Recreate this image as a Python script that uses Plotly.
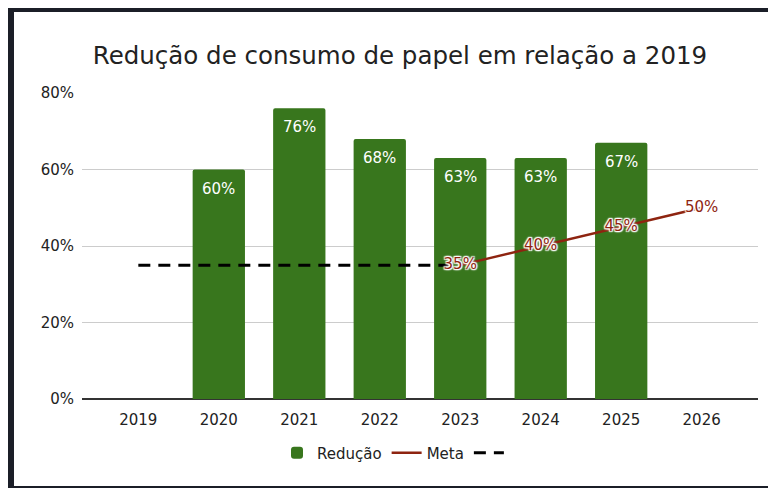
import plotly.graph_objects as go

# ---- data ----
years = ["2019", "2020", "2021", "2022", "2023", "2024", "2025", "2026"]
reducao_years = ["2020", "2021", "2022", "2023", "2024", "2025"]
reducao_vals = [60, 76, 68, 63, 63, 67]
meta_years = ["2023", "2024", "2025", "2026"]
meta_vals = [35, 40, 45, 50]
base_years = ["2019", "2020", "2021", "2022", "2023"]
base_vals = [35, 35, 35, 35, 35]
y_ticks = [0, 20, 40, 60, 80]

title_text = "Redução de consumo de papel em relação a 2019"
FONT = "DejaVu Sans"
GREEN = "#38761d"
RED = "#8e2410"
FRAME = "#1b1e27"
TXT = "#222222"

# page body has an 8px margin, so the figure is placed at (8, 8)
OFF = 8
W, H = 776 - OFF, 488 - OFF
L, R, T, B = 82 - OFF, 776 - 758, 93 - OFF, 488 - 399
PW, PH = W - L - R, H - T - B


def px(x):
    """reference-page pixel x -> paper coordinate"""
    return (x - OFF - L) / PW


def py(y):
    """reference-page pixel y -> paper coordinate"""
    return (H - B - (y - OFF)) / PH


fig = go.Figure()

fig.add_trace(go.Bar(
    x=reducao_years, y=reducao_vals, name="Redução",
    marker=dict(color=GREEN, line=dict(width=0), cornerradius=2),
    width=0.65, legendrank=1,
))

fig.add_trace(go.Scatter(
    x=base_years, y=base_vals, name=" ", mode="lines",
    line=dict(color="black", width=3, dash="12px,8px"),
    legendrank=3,
))

fig.add_trace(go.Scatter(
    x=meta_years, y=meta_vals, name="Meta", mode="lines+text",
    line=dict(color=RED, width=2.5),
    text=[f"{v}%" for v in meta_vals], textposition="middle center",
    textfont=dict(family=FONT, size=15, color=RED,
                  shadow="0 0 2px #fff, 0 0 2px #fff, 0 0 3px #fff, 1px 1px 1px #fff, -1px -1px 1px #fff, 1px -1px 1px #fff, -1px 1px 1px #fff"),
    legendrank=2,
))

annotations = []
for yr, v in zip(reducao_years, reducao_vals):
    annotations.append(dict(
        x=years.index(yr), y=v, xref="x", yref="y", text=f"{v}%", showarrow=False,
        yanchor="middle", yshift=-19,
        font=dict(family=FONT, size=15, color="white"),
    ))

shapes = [
    dict(type="rect", xref="paper", yref="paper", layer="above",
         x0=px(8), x1=px(14), y0=py(488), y1=py(7),
         fillcolor=FRAME, line=dict(width=0)),
    dict(type="rect", xref="paper", yref="paper", layer="above",
         x0=px(8), x1=px(776), y0=py(12), y1=py(7),
         fillcolor=FRAME, line=dict(width=0)),
    dict(type="rect", xref="paper", yref="paper", layer="above",
         x0=px(8), x1=px(776), y0=py(488), y1=py(486),
         fillcolor=FRAME, line=dict(width=0)),
]

fig.update_layout(
    width=W, height=H,
    margin=dict(l=L, r=R, t=T, b=B),
    paper_bgcolor="white", plot_bgcolor="white",
    font=dict(family=FONT, size=15, color=TXT),
    title=dict(text=title_text, x=(400 - OFF) / W, xanchor="center", xref="container",
               y=1 - (55 - OFF) / H, yanchor="middle", yref="container",
               font=dict(family=FONT, size=24.5, color=TXT)),
    showlegend=True,
    legend=dict(orientation="h", x=px(398), xanchor="center",
                y=py(453), yanchor="middle",
                font=dict(family=FONT, size=15, color=TXT),
                itemwidth=30, traceorder="normal"),
    annotations=annotations,
    shapes=shapes,
)

fig.update_xaxes(
    type="category", categoryorder="array", categoryarray=years,
    range=[-0.7, 7.7], showgrid=False, showline=False, ticks="",
    ticklabelstandoff=10,
    tickfont=dict(family=FONT, size=15, color=TXT),
)
fig.update_yaxes(
    range=[0, 80], tickvals=y_ticks, ticktext=[f"{t}%" for t in y_ticks],
    showgrid=True, gridcolor="#cccccc", gridwidth=1,
    zeroline=True, zerolinecolor="#333333", zerolinewidth=1.5,
    showline=False, ticks="", ticklabelstandoff=7,
    tickfont=dict(family=FONT, size=15, color=TXT),
)

fig.write_html("out.html")
